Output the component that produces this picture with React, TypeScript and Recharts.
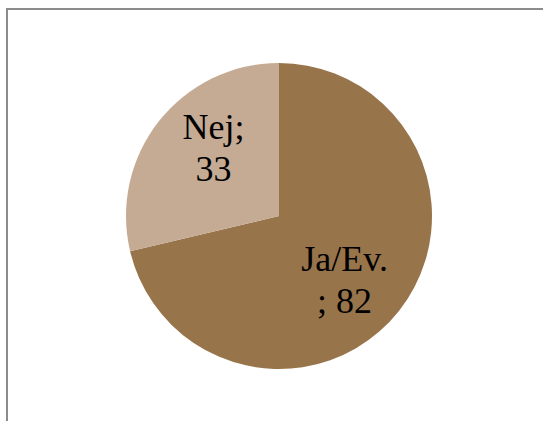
import { PieChart, Pie, Cell } from 'recharts'

const categories = ['Ja/Ev.', 'Nej']
const values = [82, 33]
const colors = ['#98744A', '#C5AB94']
// where the "name; value" label wraps onto its second line
const labelSplit = [6, 4]

const data = categories.map((name, i) => ({ name, value: values[i] }))

const RAD = Math.PI / 180

function renderLabel(props: any) {
  const { cx, cy, midAngle, outerRadius, index, name, value } = props
  // best-fit style placement: a little clockwise of the slice middle
  const r = outerRadius * 0.61
  const a = (midAngle - 7) * RAD
  const x = cx + r * Math.cos(-a)
  const y = cy + r * Math.sin(-a)
  const full = `${name}; ${value}`
  const line1 = full.slice(0, labelSplit[index]).trim()
  const line2 = full.slice(labelSplit[index]).trim()
  return (
    <text
      textAnchor="middle"
      fill="#000"
      fontSize={36}
      fontFamily="'Liberation Serif', 'Times New Roman', serif"
    >
      <tspan x={x} y={y - 11}>{line1}</tspan>
      <tspan x={x} y={y + 31}>{line2}</tspan>
    </text>
  )
}

export default function App() {
  return (
    <div style={{ position: 'absolute', left: 0, top: 0, width: 543, height: 421, overflow: 'hidden', background: '#fff' }}>
      <div
        style={{
          position: 'absolute',
          left: 6,
          top: 8,
          width: 600,
          height: 500,
          borderTop: '2px solid #8c8c8c',
          borderLeft: '2px solid #8c8c8c',
        }}
      />
      <div style={{ position: 'absolute', left: 0, top: 0 }}>
        <PieChart width={543} height={421} margin={{ top: 0, right: 0, bottom: 0, left: 0 }}>
          <Pie
            data={data}
            dataKey="value"
            nameKey="name"
            cx={279}
            cy={216}
            outerRadius={153}
            startAngle={90}
            endAngle={-270}
            stroke="none"
            label={renderLabel}
            labelLine={false}
            isAnimationActive={false}
          >
            {data.map((d, i) => (
              <Cell key={d.name} fill={colors[i]} />
            ))}
          </Pie>
        </PieChart>
      </div>
    </div>
  )
}
